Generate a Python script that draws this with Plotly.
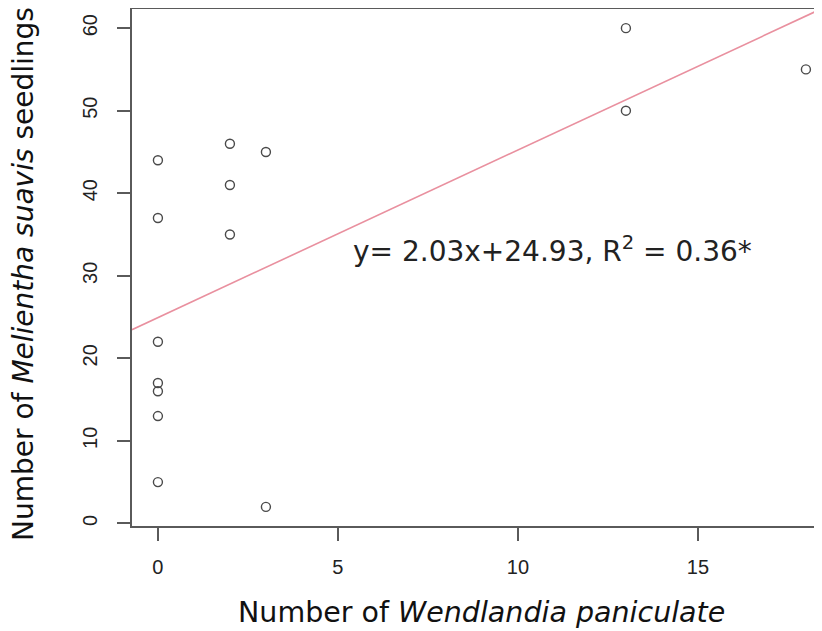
import plotly.graph_objects as go

# Data
wendlandia = [0, 0, 0, 0, 0, 0, 0, 2, 2, 2, 3, 3, 13, 13, 18]
melientha = [44, 37, 22, 17, 16, 13, 5, 46, 41, 35, 45, 2, 60, 50, 55]
slope = 2.03
intercept = 24.93
x_ticks = [0, 5, 10, 15]
y_ticks = [0, 10, 20, 30, 40, 50, 60]
equation_text = "y= 2.03x+24.93, R<sup>2</sup> = 0.36*"

x_range = [-0.72, 18.447]
y_range = [-0.32, 62.32]

line_x = [-0.72, 18.72]
line_y = [intercept + slope * v for v in line_x]

AX = "#5a5a5a"
# page body has an 8px default margin: shrink the figure to compensate
OFF = 8

fig = go.Figure()
fig.add_trace(go.Scatter(
    x=line_x, y=line_y, mode="lines",
    line=dict(color="#e9909f", width=1.6),
    hoverinfo="skip", showlegend=False, cliponaxis=True,
))
fig.add_trace(go.Scatter(
    x=wendlandia, y=melientha, mode="markers",
    marker=dict(symbol="circle-open", size=9, color="#4a4a4a",
                line=dict(width=1.4, color="#4a4a4a")),
    showlegend=False,
))

fig.update_layout(
    width=822 - OFF, height=631 - OFF,
    margin=dict(l=132 - OFF, r=0, t=9 - OFF, b=105, autoexpand=False),
    paper_bgcolor="white", plot_bgcolor="white",
    font=dict(family="Liberation Sans, Arial, sans-serif", color="#222"),
    xaxis=dict(
        range=x_range, tickvals=x_ticks, ticktext=[str(v) for v in x_ticks],
        showgrid=False, zeroline=False,
        showline=True, linecolor=AX, linewidth=2, mirror=True,
        ticks="outside", ticklen=13, tickwidth=1.6, tickcolor=AX,
        tickfont=dict(size=20, color="#222"),
        ticklabelstandoff=9,
    ),
    yaxis=dict(
        range=y_range, tickvals=y_ticks, ticktext=[str(v) for v in y_ticks],
        showgrid=False, zeroline=False,
        showline=True, linecolor=AX, linewidth=2, mirror=False,
        ticks="outside", ticklen=13, tickwidth=1.6, tickcolor=AX,
        tickangle=-90,
        tickfont=dict(size=20, color="#222"),
        ticklabelstandoff=12,
    ),
    annotations=[
        dict(text="Number of <i>Wendlandia paniculate</i>",
             xref="paper", yref="paper", x=0.507, y=-0.167,
             xanchor="center", yanchor="middle", showarrow=False,
             font=dict(family="DejaVu Sans, sans-serif", size=28.5, color="#111")),
        dict(text="Number of <i>Melientha suavis</i> seedlings",
             xref="paper", yref="paper", x=-0.157, y=0.487,
             xanchor="center", yanchor="middle", showarrow=False, textangle=-90,
             font=dict(family="DejaVu Sans, sans-serif", size=28, color="#111")),
        dict(text=equation_text,
             xref="x", yref="y", x=5.35, y=33.2,
             xanchor="left", yanchor="middle", showarrow=False,
             font=dict(family="DejaVu Sans, sans-serif", size=28, color="#222")),
    ],
)

fig.write_html("out.html")
